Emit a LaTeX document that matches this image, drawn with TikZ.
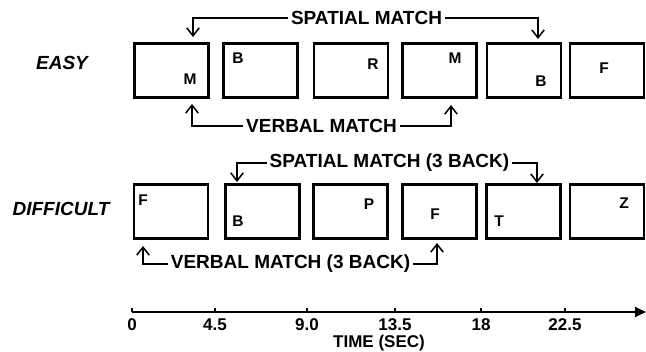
\documentclass[tikz,border=0pt]{standalone}
\usepackage{fontspec}
\setmainfont{Liberation Sans}
\usetikzlibrary{arrows.meta}

\begin{document}
\begin{tikzpicture}[x=1pt, y=-1pt, every node/.style={font=\bfseries}, >={Straight Barb[length=2.8mm,width=4.4mm]},
	frame/.style={draw, line width=2.8pt, minimum width=74pt, minimum height=54pt, inner sep=0pt},
	letter/.style={font=\fontsize{15.5}{15.5}\selectfont\bfseries, inner sep=0pt},
	cond/.style={font=\fontsize{19}{19}\selectfont\bfseries\itshape, inner sep=0pt},
	match/.style={font=\fontsize{19}{19}\selectfont\bfseries, inner sep=3pt},
	tick/.style={font=\fontsize{17}{17}\selectfont\bfseries, inner sep=0pt},
	link/.style={->, line width=1.5pt}]
	\useasboundingbox (0,0) rectangle (646,352);
	% conditions
	\node[cond] (easy) at (62,63) {EASY};
	\node[cond] (difficult) at (61,209) {DIFFICULT};
	% easy row
	\node[frame] (e1) at (171.5,70.5) {};
	\node[frame] (e2) at (260.5,70.5) {};
	\node[frame] (e3) at (351,70.5) {};
	\node[frame] (e4) at (439.5,70.5) {};
	\node[frame] (e5) at (524,70.5) {};
	\node[frame] (e6) at (607,70.5) {};
	\node[letter] (el1) at (190,79) {M};
	\node[letter] (el2) at (238,58) {B};
	\node[letter] (el3) at (373,64) {R};
	\node[letter] (el4) at (455,58) {M};
	\node[letter] (el5) at (541,81) {B};
	\node[letter] (el6) at (604,68) {F};
	% difficult row
	\node[frame] (d1) at (171,211.5) {};
	\node[frame] (d2) at (262.5,211.5) {};
	\node[frame] (d3) at (350.5,211.5) {};
	\node[frame] (d4) at (439.5,211.5) {};
	\node[frame] (d5) at (523.5,211.5) {};
	\node[frame] (d6) at (607,211.5) {};
	\node[letter] (dl1) at (143,200) {F};
	\node[letter] (dl2) at (238,221) {B};
	\node[letter] (dl3) at (369,204) {P};
	\node[letter] (dl4) at (435,214) {F};
	\node[letter] (dl5) at (499,221) {T};
	\node[letter] (dl6) at (624,203) {Z};
	% match labels and their arrows
	\node[match] (es) at (366.5,18) {SPATIAL MATCH};
	\node[match] (ev) at (321.5,126) {VERBAL MATCH};
	\node[match] (ds) at (389.5,163) {SPATIAL MATCH (3 BACK)};
	\node[match] (dv) at (290.5,264) {VERBAL MATCH (3 BACK)};
	\coordinate (es1) at (193,37);
	\coordinate (es2) at (538,39);
	\coordinate (ev1) at (192,104);
	\coordinate (ev2) at (451,105);
	\coordinate (ds1) at (237,182);
	\coordinate (ds2) at (537,183);
	\coordinate (dv1) at (143,246);
	\coordinate (dv2) at (437,243);
	\draw[link] (es.west) -| (es1);
	\draw[link] (es.east) -| (es2);
	\draw[link] (ev.west) -| (ev1);
	\draw[link] (ev.east) -| (ev2);
	\draw[link] (ds.west) -| (ds1);
	\draw[link] (ds.east) -| (ds2);
	\draw[link] (dv.west) -| (dv1);
	\draw[link] (dv.east) -| (dv2);
	% time axis
	\coordinate (ax0) at (132,312);
	\coordinate (ax1) at (646,312);
	\draw[line width=1.8pt, -{Triangle[length=11pt,width=10pt]}] (ax0) -- (ax1);
	\draw[line width=1.2pt] (132,312) -- (132,308) (215,312) -- (215,308) (307,312) -- (307,308)
		(395,312) -- (395,308) (481,312) -- (481,308) (565,312) -- (565,308);
	\node[tick] (t0) at (132,325) {0};
	\node[tick] (t1) at (215,325) {4.5};
	\node[tick] (t2) at (307,325) {9.0};
	\node[tick] (t3) at (395,325) {13.5};
	\node[tick] (t4) at (481,325) {18};
	\node[tick] (t5) at (565,325) {22.5};
	\node[tick] (time) at (379,343) {TIME (SEC)};
\end{tikzpicture}
\end{document}
